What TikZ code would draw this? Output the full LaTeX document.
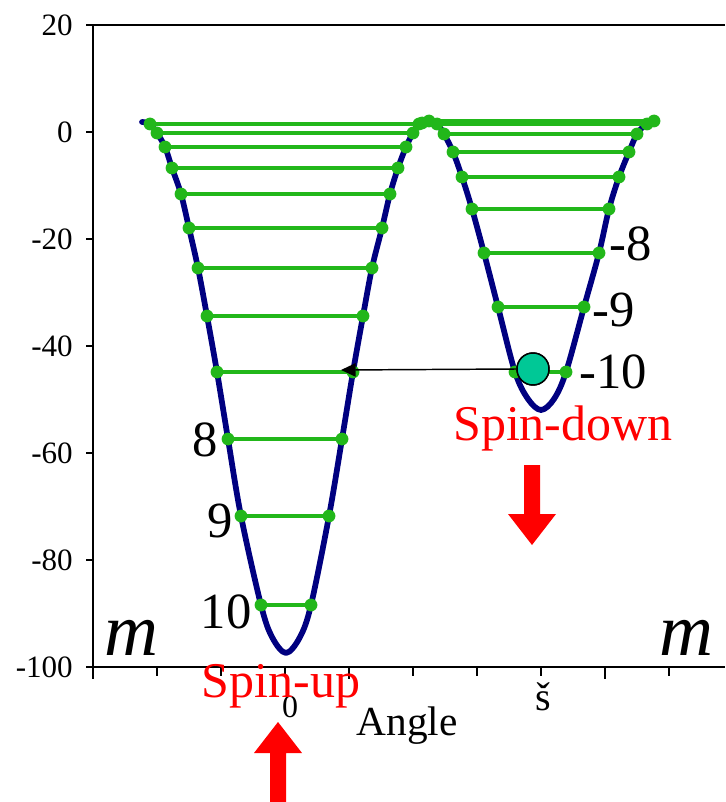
\documentclass[tikz,border=0pt]{standalone}
\usepackage{fontspec}
\setmainfont{Liberation Serif}
\newfontfamily\tnr{Liberation Serif}
\usetikzlibrary{arrows.meta}
\definecolor{navy}{RGB}{0,0,128}
\definecolor{lgreen}{RGB}{34,183,26}
\definecolor{tealc}{RGB}{0,200,150}
\definecolor{redc}{RGB}{255,0,0}
\begin{document}
\begin{tikzpicture}[x=0.75pt,y=-0.75pt,
  axis/.style={draw=black,line width=1.1pt},
  well/.style={draw=navy,line width=4.3pt,line join=round,line cap=round},
  level/.style={draw=lgreen,line width=3.7pt},
  gdot/.style={circle,fill=lgreen,inner sep=0pt,minimum size=9.6pt},
  ylab/.style={inner sep=0pt,anchor=east,font=\tnr\fontsize{23.3}{28}\selectfont},
  lvl/.style={inner sep=0pt,font=\tnr\fontsize{38}{44}\selectfont},
  spin/.style={inner sep=0pt,anchor=base,text=redc,font=\tnr\fontsize{37.5}{44}\selectfont},
  mlab/.style={inner sep=0pt,anchor=base,font=\tnr\fontsize{56}{64}\selectfont\itshape},
  redarrow/.style={fill=redc,draw=none}]
\useasboundingbox (0,0) rectangle (725,802);

% frame and axes
\draw[axis] (86,25) -- (725,25);
\draw[axis] (93,25) -- (93,679);
\draw[axis] (86,667) -- (725,667);
\foreach \y in {25,132,239,346,453,560,667} \draw[axis] (86,\y) -- (93,\y);
\foreach \k in {1,2,3,5,6,7,9} \draw[axis] ({93+64*\k},667) -- ({93+64*\k},676);
\foreach \k in {4,8} \draw[axis] ({93+64*\k},667) -- ({93+64*\k},679);

\foreach \y/\t [count=\i] in {25/20,132/0,239/-20,346/-40,453/-60,560/-80,667/-100}
  \node[ylab] (yl\i) at (73,\y) {\t};

% potential curve
\draw[well] plot[smooth,tension=0.55] coordinates {
 (142,122) (150,124) (157,133) (165,147) (172,168) (181,194) (189,228) (198,268)
 (207,316) (217,372) (228,439) (241,516) (261,605) (272,637) (286,653) (300,637) (311,605)
 (329,516) (342,439) (353,372) (363,316) (372,268) (382,228) (390,194) (398,168)
 (406,147) (413,133) (419,124) (428,120) (437,124) (444,134) (453,152) (462,177)
 (472,209) (484,253) (498,307) (515,372) (528,399) (541,410) (554,399) (566,372)
 (584,307) (599,253) (609,209) (619,177) (629,152) (637,134) (647,123) (652,121)};

% energy levels: left well
\foreach \y/\a/\b [count=\i] in {124/150/419,133/157/413,147/165/406,168/172/398,
   194/181/390,228/189/382,268/198/372,316/207/363,372/217/353,439/228/342,
   516/241/329,605/261/311} {
  \coordinate (La\i) at (\a,\y);
  \coordinate (Lb\i) at (\b,\y);
  \draw[level] (La\i) -- (Lb\i);
  \node[gdot] (dLa\i) at (La\i) {};
  \node[gdot] (dLb\i) at (Lb\i) {};
}
% energy levels: right well
\foreach \y/\a/\b [count=\i] in {121/429/654,124/437/647,134/444/637,152/453/629,
   177/462/619,209/472/609,253/484/599,307/498/584,372/515/566} {
  \coordinate (Ra\i) at (\a,\y);
  \coordinate (Rb\i) at (\b,\y);
  \draw[level] (Ra\i) -- (Rb\i);
  \node[gdot] (dRa\i) at (Ra\i) {};
  \node[gdot] (dRb\i) at (Rb\i) {};
}
\coordinate (top0) at (422,123);
\draw[level] (Lb1) -- (top0) -- (Ra1);
\node[gdot] (dtop0) at (top0) {};

% tunnelling arrow and particle
\coordinate (tipc) at (341,370);
\node[circle,draw=black,line width=1.1pt,fill=tealc,minimum size=24pt,inner sep=0pt] (ball) at (533,369) {};
\draw[-{Triangle[length=11pt,width=10pt]},line width=1.1pt] (ball.west) -- (tipc);
\node[circle,draw=black,line width=1.1pt,fill=tealc,minimum size=24pt,inner sep=0pt] at (ball) {};

% level labels
\node[lvl] (n8) at (205,440) {8};
\node[lvl] (n9) at (220,521) {9};
\node[lvl] (n10) at (226,612) {10};
\node[lvl] (m8) at (631,244) {-8};
\node[lvl] (m9) at (614,310) {-9};
\node[lvl] (m10) at (613,372) {-10};

% axis texts
\node[inner sep=0pt,anchor=base,font=\tnr\fontsize{24}{28}\selectfont] (x0) at (290,717) {0};
\node[inner sep=0pt,anchor=base,font=\tnr\fontsize{30}{34}\selectfont] (xpi) at (543,710) {š};
\node[inner sep=0pt,anchor=base,font=\tnr\fontsize{31}{36}\selectfont] (angle) at (407,735) {Angle};
\node[mlab] (mleft) at (131,655) {m};
\node[mlab] (mright) at (686,655) {m};

% spin labels
\node[spin] (sup) at (281,697) {Spin-up};
\node[spin] (sdown) at (563,440) {Spin-down};

% red arrows
\fill[redarrow] (278,722) -- (302,753) -- (286,753) -- (286,802) -- (270,802) -- (270,753) -- (254,753) -- cycle;
\fill[redarrow] (532,545) -- (556,514) -- (540,514) -- (540,465) -- (524,465) -- (524,514) -- (508,514) -- cycle;
\end{tikzpicture}
\end{document}
